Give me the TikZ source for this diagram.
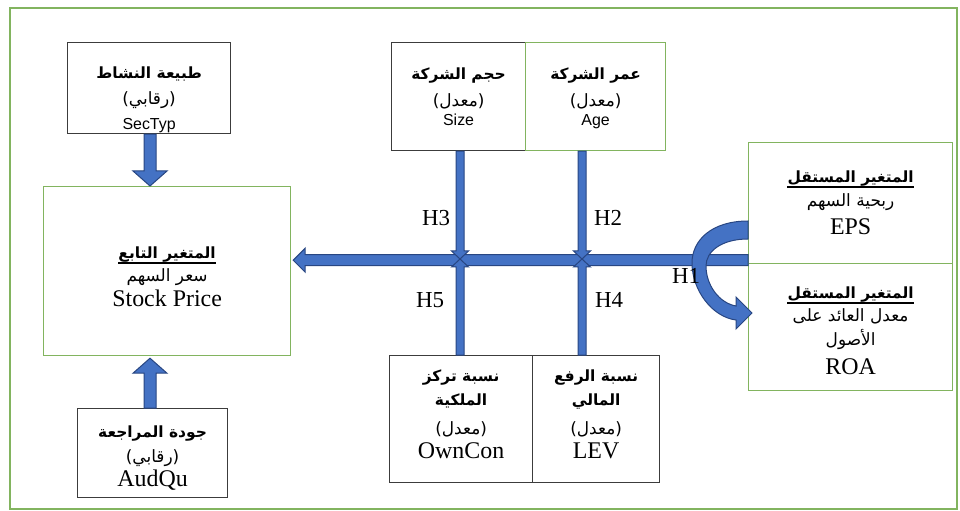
\documentclass[tikz,border=0pt]{standalone}
\usepackage{fontspec}
\setmainfont{Liberation Serif}
\newfontfamily\arabicfont[Script=Arabic]{DejaVu Sans}
\newfontfamily\arialfont{Liberation Sans}
\TeXXeTstate=1
\usetikzlibrary{calc}
\newcommand{\AR}[1]{{\arabicfont\beginR #1\endR}}
\definecolor{arrowblue}{RGB}{68,114,196}
\definecolor{arrowedge}{RGB}{40,70,130}
\definecolor{boxgreen}{RGB}{130,180,95}
\definecolor{boxdark}{RGB}{60,60,60}
\tikzset{
  box/.style={draw=boxdark, line width=1.2bp, inner sep=0pt, anchor=north west},
  gbox/.style={box, draw=boxgreen},
  artitle/.style={inner sep=0pt, anchor=base, font=\arabicfont\bfseries\fontsize{15.5}{18}\selectfont},
  artext/.style={inner sep=0pt, anchor=base, font=\arabicfont\fontsize{17}{20}\selectfont},
  lattext/.style={inner sep=0pt, anchor=base, font=\fontsize{24}{26}\selectfont},
  sanstext/.style={inner sep=0pt, anchor=base, font=\arialfont\fontsize{16}{18}\selectfont},
  uline/.style={line width=1.3bp, black},
  blockarrow/.style={draw=arrowedge, fill=arrowblue, line width=1bp, line join=miter},
  hlabel/.style={inner sep=0pt, font=\fontsize{23}{26}\selectfont},
}
\newcommand{\blockarrow}[5]{%
  \coordinate (ba-b) at ($(#2)!#5!(#1)$);
  \filldraw[blockarrow] ($(#1)!#3!90:(#2)$) -- ($(ba-b)!#3!90:(#2)$) -- ($(ba-b)!#4!90:(#2)$) -- (#2)
    -- ($(ba-b)!#4!-90:(#2)$) -- ($(ba-b)!#3!-90:(#2)$) -- ($(#1)!#3!-90:(#2)$) -- cycle;
}
\newcommand{\underl}[1]{\draw[uline] ($(#1.base west)+(0,4)$) -- ($(#1.base east)+(0,4)$);}
\begin{document}
\begin{tikzpicture}[x=1bp,y=-1bp]
\useasboundingbox (0,0) rectangle (960,511);
\draw[boxgreen, line width=1.2bp] (10,8) rectangle (957,509);

% ---------- boxes ----------
\node[box, minimum width=163bp, minimum height=91bp] (sec) at (67,42) {};
\node[box, minimum width=134bp, minimum height=108bp] (size) at (391,42) {};
\node[gbox, minimum width=140bp, minimum height=108bp] (age) at (525,42) {};
\node[gbox, minimum width=247bp, minimum height=169bp] (stock) at (43,186) {};
\node[gbox, minimum width=204bp, minimum height=121bp] (eps) at (748,142) {};
\node[gbox, minimum width=204bp, minimum height=127bp] (roa) at (748,263) {};
\node[box, minimum width=143bp, minimum height=127bp] (own) at (389,355) {};
\node[box, minimum width=127bp, minimum height=127bp] (lev) at (532,355) {};
\node[box, minimum width=150bp, minimum height=89bp] (aud) at (77,408) {};

% ---------- texts ----------
\node[artitle] (sec1) at (sec.center |- 0,79) {\AR{طبيعة النشاط}};
\node[artext]  (sec2) at (sec.center |- 0,105) {\AR{(رقابي)}};
\node[sanstext] (sec3) at (sec.center |- 0,130) {SecTyp};

\node[artitle] (size1) at (size.center |- 0,80) {\AR{حجم الشركة}};
\node[artext]  (size2) at (size.center |- 0,107) {\AR{(معدل)}};
\node[sanstext] (size3) at (size.center |- 0,126) {Size};

\node[artitle] (age1) at (age.center |- 0,80) {\AR{عمر الشركة}};
\node[artext]  (age2) at (age.center |- 0,107) {\AR{(معدل)}};
\node[sanstext] (age3) at (age.center |- 0,126) {Age};

\node[artitle] (st1) at (stock.center |- 0,259) {\AR{المتغير التابع}};
\underl{st1}
\node[artext]  (st2) at (stock.center |- 0,282) {\AR{سعر السهم}};
\node[lattext] (st3) at (stock.center |- 0,307) {Stock Price};

\node[artitle] (eps1) at (eps.center |- 0,183) {\AR{المتغير المستقل}};
\underl{eps1}
\node[artext]  (eps2) at (eps.center |- 0,207) {\AR{ربحية السهم}};
\node[lattext] (eps3) at (eps.center |- 0,235) {EPS};

\node[artitle] (roa1) at (roa.center |- 0,299) {\AR{المتغير المستقل}};
\underl{roa1}
\node[artext]  (roa2) at (roa.center |- 0,322) {\AR{معدل العائد على}};
\node[artext]  (roa3) at (roa.center |- 0,346) {\AR{الأصول}};
\node[lattext] (roa4) at (roa.center |- 0,375) {ROA};

\node[artitle] (own1) at (own.center |- 0,382) {\AR{نسبة تركز}};
\node[artitle] (own2) at (own.center |- 0,405) {\AR{الملكية}};
\node[artext]  (own3) at (own.center |- 0,434) {\AR{(معدل)}};
\node[lattext] (own4) at (own.center |- 0,458) {OwnCon};

\node[artitle] (lev1) at (lev.center |- 0,382) {\AR{نسبة الرفع}};
\node[artitle] (lev2) at (lev.center |- 0,405) {\AR{المالي}};
\node[artext]  (lev3) at (lev.center |- 0,434) {\AR{(معدل)}};
\node[lattext] (lev4) at (lev.center |- 0,458) {LEV};

\node[artitle] (aud1) at (aud.center |- 0,437) {\AR{جودة المراجعة}};
\node[artext]  (aud2) at (aud.center |- 0,462) {\AR{(رقابي)}};
\node[lattext] (aud3) at (aud.center |- 0,486) {AudQu};

% ---------- control-variable arrows ----------
\coordinate (sa) at (sec.south -| 150,0);
\coordinate (sb) at (sa |- stock.north);
\blockarrow{sa}{sb}{6bp}{17bp}{15bp}
\coordinate (aa) at (aud.north -| 150,0);
\coordinate (ab) at ($(aa |- stock.south)+(0,2)$);
\blockarrow{aa}{ab}{6bp}{17bp}{15bp}

% ---------- main horizontal arrow ----------
\coordinate (hr) at ($(eps.south west)+(0,-4)$);
\coordinate (hl) at ($(stock.east |- hr)+(2,0)$);
\blockarrow{hr}{hl}{5.5bp}{12bp}{12bp}

% ---------- crossing arrows ----------
\coordinate (c1) at (460,259);
\coordinate (c2) at (582,259);
\coordinate (s1) at (size.south -| c1);
\coordinate (s2) at (age.south -| c2);
\coordinate (s3) at (own.north -| c1);
\coordinate (s4) at (lev.north -| c2);
\blockarrow{s1}{c1}{4bp}{8.5bp}{8bp}
\blockarrow{s2}{c2}{4bp}{8.5bp}{8bp}
\blockarrow{s3}{c1}{4bp}{8.5bp}{8bp}
\blockarrow{s4}{c2}{4bp}{8.5bp}{8bp}

% ---------- curved arrow EPS -> ROA ----------
\filldraw[blockarrow] (748,221) .. controls (712,221) and (692,240) .. (692,263)
  .. controls (692,290) and (712,317) .. (736,320) -- (736,329) -- (752,313) -- (736,297) -- (736,306)
  .. controls (719,303) and (706,285) .. (706,266)
  .. controls (706,251) and (722,239) .. (748,239) -- cycle;

% ---------- hypothesis labels ----------
\node[hlabel] (h3) at (436,218) {H3};
\node[hlabel] (h2) at (608,218) {H2};
\node[hlabel] (h5) at (430,300) {H5};
\node[hlabel] (h4) at (609,300) {H4};
\node[hlabel] (h1) at (686,276) {H1};
\end{tikzpicture}
\end{document}
